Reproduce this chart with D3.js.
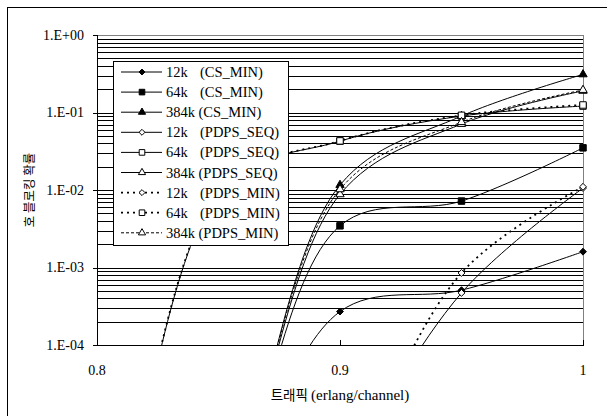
<!DOCTYPE html>
<html>
<head>
<meta charset="utf-8">
<script src="https://cdn.jsdelivr.net/npm/d3@7"></script>
<style>
  body { margin: 0; background: #fff; }
  svg { display: block; }
</style>
</head>
<body>
<div id="chart"></div>
<script>
// traffic load (erlang/channel)
var xVals = [0.8, 0.85, 0.9, 0.95, 1.0]

// call blocking probability, one array per series
var cs12k = [1e-9, 3e-7, 2.7e-4, 5.1e-4, 1.6e-3]
var cs64k = [1e-9, 3e-7, 3.45e-3, 7.2e-3, 0.035]
var cs384k = [1e-9, 3e-7, 0.0116, 0.09, 0.31]
var seq12k = [1e-12, 1e-9, 1.5e-6, 4.7e-4, 0.0106]
var seq64k = [1e-9, 0.0095, 0.0427, 0.09, 0.121]
var seq384k = [1e-9, 3e-7, 0.0088, 0.071, 0.19]
var min12k = [1e-12, 1e-9, 1e-6, 8.5e-4, 0.011]
var min64k = [1e-9, 0.0098, 0.043, 0.092, 0.125]
var min384k = [1e-9, 3e-7, 0.0102, 0.075, 0.195]

var sizeLabels = ['12k', '64k', '384k', '12k', '64k', '384k', '12k', '64k', '384k']
var modeLabels = ['(CS_MIN)', '(CS_MIN)', '(CS_MIN)', '(PDPS_SEQ)', '(PDPS_SEQ)', '(PDPS_SEQ)', '(PDPS_MIN)', '(PDPS_MIN)', '(PDPS_MIN)']

var yTicks = [1e-4, 1e-3, 1e-2, 1e-1, 1]
var yTickLabels = ['1.E-04', '1.E-03', '1.E-02', '1.E-01', '1.E+00']
var xTicks = [0.8, 0.9, 1]
var xTickLabels = ['0.8', '0.9', '1']

var series = [
  { values: cs12k, marker: 'diamond', filled: true, dash: null },
  { values: cs64k, marker: 'square', filled: true, dash: null },
  { values: cs384k, marker: 'triangle', filled: true, dash: null },
  { values: seq12k, marker: 'diamond', filled: false, dash: null },
  { values: seq64k, marker: 'square', filled: false, dash: null },
  { values: seq384k, marker: 'triangle', filled: false, dash: null },
  { values: min12k, marker: 'diamond', filled: false, dash: 'dot' },
  { values: min64k, marker: 'square', filled: false, dash: 'dot' },
  { values: min384k, marker: 'triangle', filled: false, dash: 'dash' }
]

var W = 607, H = 416
var margin = { top: 35, right: 24, bottom: 71, left: 97 }
var x0 = margin.left, x1 = W - margin.right
var y0 = H - margin.bottom, y1 = margin.top

var svg = d3.select('#chart').append('svg')
  .attr('width', W)
  .attr('height', H)

// outer frame (runs off the right and bottom edges)
svg.append('rect')
  .attr('x', 7.5).attr('y', 7.5)
  .attr('width', 700).attr('height', 500)
  .attr('fill', 'none')
  .attr('stroke', '#000')

var x = d3.scaleLinear().domain([0.8, 1]).range([x0, x1])
var y = d3.scaleLog().domain([1e-4, 1]).range([y0, y1])

// horizontal gridlines at every minor step
var grid = []
for (var e = -4; e < 0; e++) {
  for (var m = 1; m < 10; m++) grid.push(m * Math.pow(10, e))
}
grid.push(1)
svg.append('g')
  .selectAll('line')
  .data(grid)
  .enter()
  .append('line')
  .attr('x1', x0).attr('x2', x1)
  .attr('y1', d => Math.round(y(d)) + 0.5)
  .attr('y2', d => Math.round(y(d)) + 0.5)
  .attr('stroke', '#000')
  .attr('stroke-width', 1)

// plot border
svg.append('rect')
  .attr('x', x0 + 0.5).attr('y', y1 + 0.5)
  .attr('width', x1 - x0).attr('height', y0 - y1)
  .attr('fill', 'none')
  .attr('stroke', '#808080')

svg.append('clipPath').attr('id', 'plot-clip')
  .append('rect')
  .attr('x', x0).attr('y', y1)
  .attr('width', x1 - x0 + 1).attr('height', y0 - y1 + 1)

var line = d3.line()
  .x((d, i) => x(xVals[i]))
  .y(d => y(d))
  .curve(d3.curveCatmullRom.alpha(0.5))

var dashOf = function (s) {
  if (s.dash === 'dot') return '2,4'
  if (s.dash === 'dash') return '3,2'
  return null
}

var lines = svg.append('g').attr('clip-path', 'url(#plot-clip)')
series.forEach(function (s) {
  lines.append('path')
    .datum(s.values)
    .attr('fill', 'none')
    .attr('stroke', '#000')
    .attr('stroke-width', s.dash === 'dot' ? 1.8 : 1)
    .attr('stroke-dasharray', dashOf(s))
    .attr('d', line)
})

var symbolFor = {
  diamond: d3.symbolDiamond2,
  square: d3.symbolSquare,
  triangle: d3.symbolTriangle
}
var sizeFor = { diamond: 30, square: 42, triangle: 30 }

var drawMarker = function (g, s, cx, cy, scale) {
  g.append('path')
    .attr('d', d3.symbol().type(symbolFor[s.marker]).size(sizeFor[s.marker] * scale)())
    .attr('transform', 'translate(' + cx + ',' + cy + ')')
    .attr('fill', s.filled ? '#000' : '#fff')
    .attr('stroke', '#000')
    .attr('stroke-width', 1)
}

var markers = svg.append('g')
series.forEach(function (s) {
  s.values.forEach(function (v, i) {
    if (v < 1e-4 || v > 1) return
    drawMarker(markers, s, x(xVals[i]), y(v), 1)
  })
})

// axes lines and ticks
svg.append('line')
  .attr('x1', x0 + 0.5).attr('x2', x0 + 0.5)
  .attr('y1', y1).attr('y2', y0 + 1)
  .attr('stroke', '#000')
svg.append('line')
  .attr('x1', x0).attr('x2', x1 + 1)
  .attr('y1', y0 + 0.5).attr('y2', y0 + 0.5)
  .attr('stroke', '#000')

svg.append('g')
  .selectAll('line')
  .data(yTicks)
  .enter()
  .append('line')
  .attr('x1', x0 - 4).attr('x2', x0)
  .attr('y1', d => Math.round(y(d)) + 0.5)
  .attr('y2', d => Math.round(y(d)) + 0.5)
  .attr('stroke', '#000')

svg.append('g')
  .selectAll('line')
  .data(xTicks)
  .enter()
  .append('line')
  .attr('x1', d => Math.round(x(d)) + 0.5)
  .attr('x2', d => Math.round(x(d)) + 0.5)
  .attr('y1', y0 - 5).attr('y2', y0)
  .attr('stroke', '#000')

svg.append('g')
  .attr('font-family', 'Liberation Serif, serif')
  .attr('font-size', 14)
  .attr('text-anchor', 'end')
  .selectAll('text')
  .data(yTicks)
  .enter()
  .append('text')
  .attr('x', x0 - 13)
  .attr('y', d => y(d))
  .attr('dy', '0.35em')
  .text((d, i) => yTickLabels[i])

svg.append('g')
  .attr('font-family', 'Liberation Serif, serif')
  .attr('font-size', 14)
  .attr('text-anchor', 'middle')
  .selectAll('text')
  .data(xTicks)
  .enter()
  .append('text')
  .attr('x', d => x(d))
  .attr('y', y0 + 30)
  .text((d, i) => xTickLabels[i])

// axis titles
var xt = svg.append('text')
  .attr('x', (x0 + x1) / 2)
  .attr('y', 400)
  .attr('text-anchor', 'middle')
  .attr('font-size', 15)
xt.append('tspan').attr('font-family', 'Noto Sans CJK KR').attr('font-size', 13.5).text('트래픽 ')
xt.append('tspan').attr('font-family', 'Liberation Serif, serif').text('(erlang/channel)')

svg.append('text')
  .attr('transform', 'translate(34,' + (y0 + y1) / 2 + ') rotate(-90)')
  .attr('text-anchor', 'middle')
  .attr('font-family', 'Noto Sans CJK KR')
  .attr('font-size', 12.5)
  .attr('fill', '#000')
  .text('호 블로킹 확률')

// legend
var lg = { x: 113, y: 61, w: 175, h: 184, row: 20.1 }
var legend = svg.append('g')
legend.append('rect')
  .attr('x', lg.x + 0.5).attr('y', lg.y + 0.5)
  .attr('width', lg.w).attr('height', lg.h)
  .attr('fill', '#fff')
  .attr('stroke', '#000')

series.forEach(function (s, i) {
  var cy = lg.y + 11 + i * lg.row
  var row = legend.append('g')
  row.append('line')
    .attr('x1', lg.x + 8).attr('x2', lg.x + 49)
    .attr('y1', cy).attr('y2', cy)
    .attr('stroke', '#000')
    .attr('stroke-width', s.dash === 'dot' ? 1.8 : 1)
    .attr('stroke-dasharray', dashOf(s))
  drawMarker(row, s, lg.x + 29, cy, 0.75)
  var t = row.append('text')
    .attr('y', cy)
    .attr('dy', '0.35em')
    .attr('font-family', 'Liberation Serif, serif')
    .attr('font-size', 14.5)
  t.append('tspan').attr('x', lg.x + 53).text(sizeLabels[i])
  t.append('tspan').attr('x', lg.x + (sizeLabels[i] === '384k' ? 85.5 : 87)).text(modeLabels[i])
})
</script>
</body>
</html>
